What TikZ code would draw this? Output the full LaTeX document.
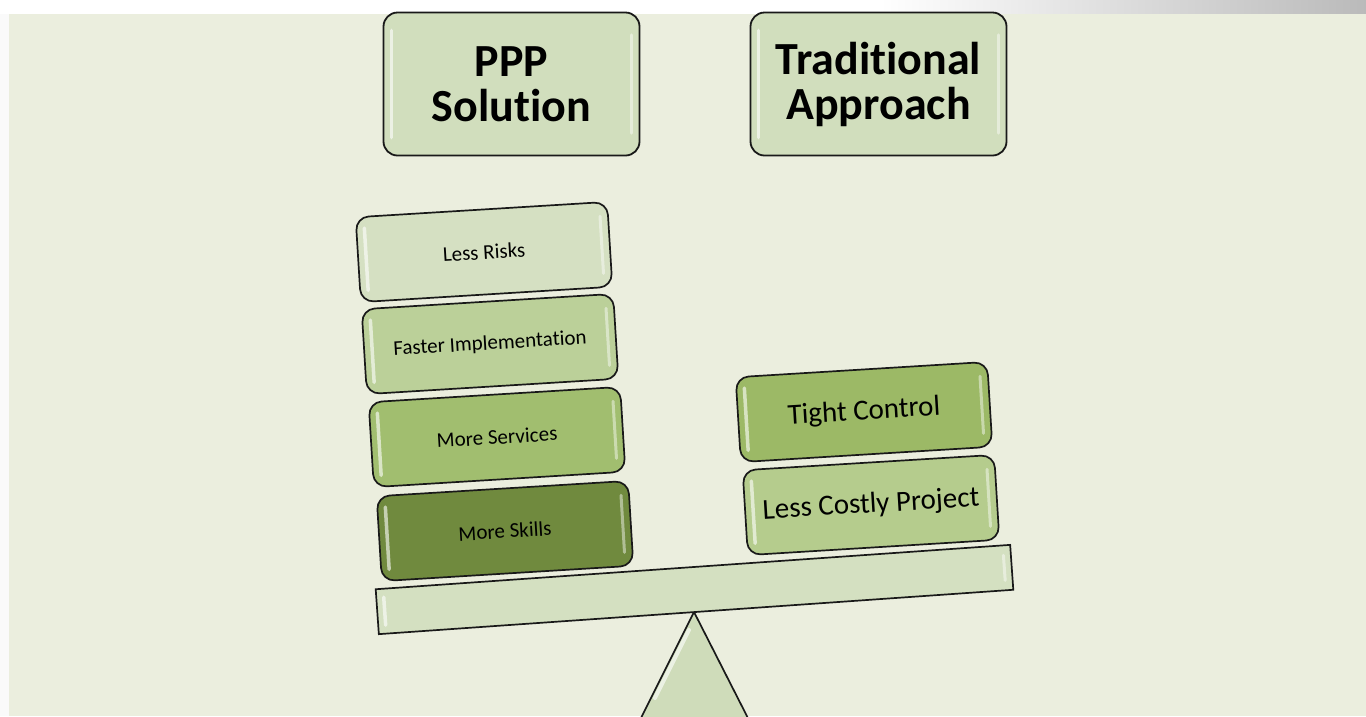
\documentclass[tikz,border=0pt]{standalone}
\usepackage{fontspec}
\setmainfont{Carlito}[Ligatures={NoCommon,NoContextual,NoRequired}]
\usetikzlibrary{calc}
\definecolor{bgc}{RGB}{235,238,222}
\definecolor{headfill}{RGB}{209,222,189}
\definecolor{riskfill}{RGB}{213,224,194}
\definecolor{fastfill}{RGB}{187,208,153}
\definecolor{servfill}{RGB}{161,190,111}
\definecolor{skillfill}{RGB}{112,138,62}
\definecolor{tightfill}{RGB}{156,185,102}
\definecolor{costfill}{RGB}{181,204,141}
\definecolor{beamfill}{RGB}{212,224,193}
\definecolor{fulfill}{RGB}{207,220,186}
\definecolor{edge}{RGB}{25,25,25}
\tikzset{
  head/.style={draw=edge, line width=1.8pt, rounded corners=14pt, fill=headfill,
    minimum width=256pt, minimum height=143pt, align=center, inner sep=0pt,
    font=\fontsize{46}{45}\selectfont\bfseries},
  blk/.style={draw=edge, line width=1.7pt, rounded corners=13pt,
    minimum width=252pt, minimum height=85pt, rotate=3.5, inner sep=0pt,
    font=\fontsize{21}{25}\selectfont},
  big/.style={font=\fontsize{29}{33}\selectfont},
  beamstyle/.style={draw=edge, line width=1.7pt, fill=beamfill,
    minimum width=636pt, minimum height=45pt, rotate=4, inner sep=0pt},
  hl/.style={white, opacity=.6, line width=3.5pt, line cap=round},
  hlr/.style={white, opacity=.45, line width=3pt, line cap=round}
}
\newcommand\glossbars[3]{%
  \path (#1.north west) -- (#1.north east) coordinate[pos=#2] (#1-lt) coordinate[pos=1-#2] (#1-rt);
  \path (#1.south west) -- (#1.south east) coordinate[pos=#2] (#1-lb) coordinate[pos=1-#2] (#1-rb);
  \draw[hl] ($(#1-lt)!#3!(#1-lb)$) -- ($(#1-lt)!1-#3!(#1-lb)$);
  \draw[hlr] ($(#1-rt)!#3+0.03!(#1-rb)$) -- ($(#1-rt)!0.97-#3!(#1-rb)$);
}
\begin{document}
\begin{tikzpicture}[x=1pt,y=-1pt]
\useasboundingbox (0,0) rectangle (1366,716);
\clip (0,0) rectangle (1366,716);
% page background
\fill[white!98!black] (0,0) rectangle (1366,716);
\fill[white] (0,0) rectangle (880,14);
\shade[left color=white, right color=black!27] (880,0) rectangle (1366,14);
\fill[bgc] (9,14) rectangle (1366,716);

% headings
\node[head] (ppp) at (511.5,84) {PPP\\Solution};
\node[head] (trad) at (878.5,84) {Traditional\\Approach};
\glossbars{ppp}{0.035}{0.13}
\glossbars{trad}{0.035}{0.13}

% fulcrum
\filldraw[fill=fulfill, draw=edge, line width=1.7pt] (694,612) -- (637,726) -- (752,726) -- cycle;
\draw[hl, line width=4pt] (689,630) -- (655,698);

% beam
\node[beamstyle] (beam) at (694.5,589.5) {};
\glossbars{beam}{0.013}{0.2}

% left stack
\node[blk, fill=riskfill] (risk) at (484,252) {Less Risks};
\node[blk, fill=fastfill] (fast) at (490,344) {Faster Implementation};
\node[blk, fill=servfill] (serv) at (497,437) {More Services};
\node[blk, fill=skillfill] (skill) at (505,531) {More Skills};
\glossbars{risk}{0.035}{0.14}
\glossbars{fast}{0.035}{0.14}
\glossbars{serv}{0.035}{0.14}
\glossbars{skill}{0.035}{0.14}

% right stack
\node[blk, big, fill=tightfill] (tight) at (864,412) {Tight Control};
\node[blk, big, fill=costfill] (cost) at (871,505) {Less Costly Project};
\glossbars{tight}{0.035}{0.14}
\glossbars{cost}{0.035}{0.14}
\end{tikzpicture}
\end{document}
